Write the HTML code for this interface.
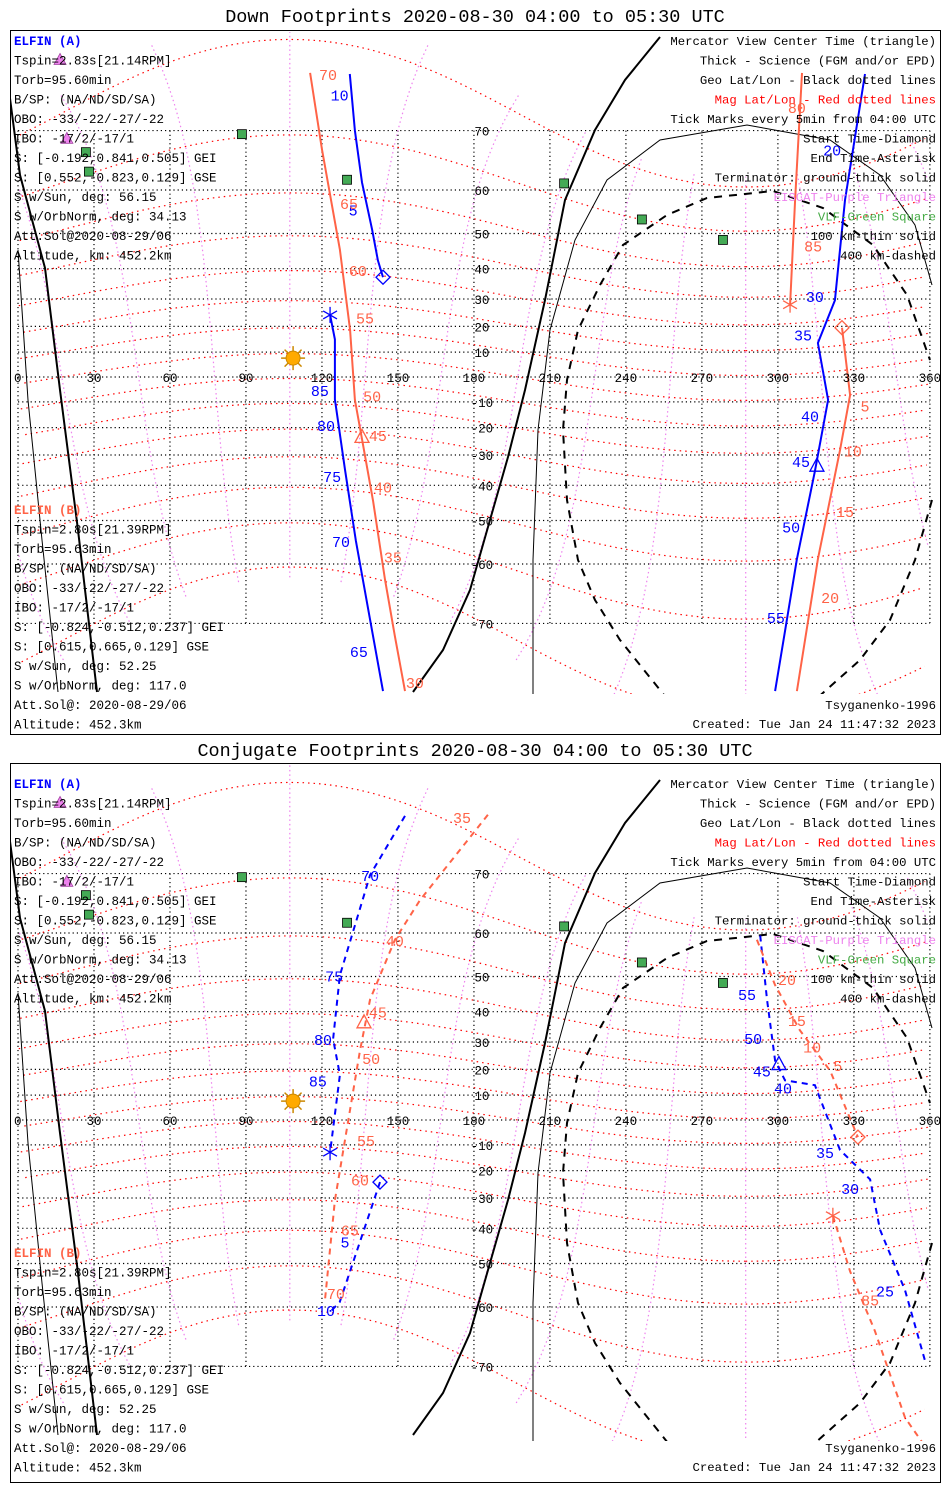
<!DOCTYPE html>
<html><head><meta charset="utf-8"><style>
html,body{margin:0;padding:0;background:#fff}
svg{display:block}
text{font-family:"Liberation Mono","DejaVu Sans Mono",monospace}
</style></head>
<body>
<svg id="chart" width="950" height="1500" viewBox="0 0 950 1500" xmlns="http://www.w3.org/2000/svg">
<defs>
<clipPath id="mapclip"><rect x="10" y="32" width="931" height="662"/></clipPath>
<clipPath id="mapclip2"><rect x="10" y="22" width="931" height="676"/></clipPath>
</defs>
<rect x="0" y="0" width="950" height="1500" fill="#fff"/>
<text x="475" y="22" font-size="18.5" text-anchor="middle">Down Footprints 2020-08-30 04:00 to 05:30 UTC</text>
<text x="475" y="756" font-size="18.5" text-anchor="middle">Conjugate Footprints 2020-08-30 04:00 to 05:30 UTC</text>
<rect x="10.5" y="30.5" width="930" height="704" fill="none" stroke="#000"/>
<rect x="10.5" y="763.5" width="930" height="719" fill="none" stroke="#000"/>
<g id="p1"></g>
<g id="p2" transform="translate(0,743)"></g>
</svg>
<script>
// ---- data ----
const lonTicks=[0,30,60,90,120,150,180,210,240,270,300,330,360];
const latTicks=[70,60,50,40,30,20,10,-10,-20,-30,-40,-50,-60,-70];
const magLats=[-70,-60,-50,-40,-30,-20,-10,0,10,20,30,40,50,60,70];
const magLons=[0,30,60,90,120,150,180,210,240,270,300,330];
const vlfSites=[[88.4,69.5],[26.8,66.8],[28,63.5],[129.9,62],[215.6,61.3],[246.3,53.5],[278.3,48.3]];
const eiscatSites=[[16.6,77.8],[19.3,68.9]];
const sunPos=[108.6,7.6];
// down footprints (top)
const downBlue1=[[144.1,37.3],[142.1,42.5],[139.8,51],[135.8,61.5],[133,70],[131,76.5]];
const downBlue2=[[123.2,24.3],[125.1,15],[125.1,-9],[129.1,-35],[133.4,-55],[139,-69.5],[144.1,-77.5]];
const downBlue3=[[334.4,76.5],[326.5,57.9],[322.5,29.5],[315.8,13.6],[319.8,-9.2],[314.6,-35.5],[307.5,-59],[298.9,-77.5]];
const downOrange1=[[115.3,76.6],[120,67.2],[127.1,45.6],[131.1,18.6],[133,-9.2],[135.8,-24.3],[140.2,-44.7],[144.9,-63],[148.8,-71.7],[152.8,-77.5]];
const downOrange2=[[309.5,76.6],[306.8,57.9],[304.8,28]];
const downOrange3=[[325.3,19.5],[328.5,-7.3],[324.5,-28.3],[315.8,-59],[307.5,-77.5]];
const downBlueLabels=[["10",127,74.4],["5",132.3,55.8],["85",119.2,-5.2],["80",121.6,-19],["75",124,-37],["70",127.5,-55],["65",134.6,-73.5],["20",321.4,67.2],["30",314.6,31],["35",309.9,16.9],["40",312.7,-15.3],["45",309.1,-32],["50",305.2,-51.5],["55",299.2,-69.1]];
const downOrangeLabels=[["70",122.4,76.5],["65",130.7,57.3],["60",134.2,39.6],["55",137,23.3],["50",139.8,-7.4],["45",142.1,-22.7],["40",144.1,-40.4],["35",148,-58.5],["30",156.7,-76.7],["80",307.5,73],["85",313.9,46.8],["5",334.4,-11.4],["10",329.6,-28.5],["15",326.5,-47.5],["20",320.6,-66]];
const downMarks={blueDiamond:[144.1,37.3],blueStar:[123.2,24.3],blueTri:[315.4,-33.5],orangeTri:[135.8,-23.3],orangeStar:[304.8,28],orangeDiamond:[325.3,19.5]};
// conjugate footprints (bottom)
const conjBlue1=[[152.8,76.6],[139,69.8],[127.1,50.3],[124.4,31],[127.1,17.9],[123.2,-12.9]];
const conjBlue2=[[142.9,-24.3],[135,-44],[127,-59],[123.2,-61]];
const conjBlue3=[[293,59.5],[295.7,43.7],[298.9,23.3],[302.8,15.8],[314.6,13.9],[324.5,-12],[336.4,-23.3],[340.3,-40.4],[350.2,-56.5],[358,-69.1]];
const conjOrange1=[[185.5,76.7],[158.7,66],[148.8,58.6],[139,43.7],[135,27],[129.1,-8],[125.1,-30.8],[121.2,-58.5]];
const conjOrange2=[[291.7,58.6],[298.9,47.7],[308.7,34],[320.6,19.5],[331.6,-6.9]];
const conjOrange3=[[321.7,-36],[328.5,-52],[338.3,-64.5],[350.2,-76],[358,-78.5]];
const conjBlueLabels=[["70",139,69.8],["75",124.8,50.3],["80",120.4,31],["85",118.4,15.8],["5",129.1,-43.9],["10",121.6,-60.6],["55",287.8,45.2],["50",290.2,31.4],["45",293.7,19.5],["40",302,13],["35",318.6,-12.9],["30",328.5,-26.5],["25",342.3,-56.5]];
const conjOrangeLabels=[["35",175.3,76.5],["40",148.8,58.6],["45",142.1,40],["50",139.4,24.3],["55",137.4,-8],["60",135,-23.3],["65",131,-40.4],["70",125.5,-57],["20",303.6,49.3],["15",307.5,37.3],["10",313.5,28.5],["5",323.7,21.7],["85",336.4,-58.5]];
const conjMarks={blueDiamond:[142.9,-24.3],blueStar:[123.2,-12.9],blueTri:[300.4,22.2],orangeTri:[136.6,36.8],orangeStar:[321.7,-36],orangeDiamond:[331.6,-6.9]};
const infoA=["Tspin=2.83s[21.14RPM]","Torb=95.60min","B/SP: (NA/ND/SD/SA)","OBO: -33/-22/-27/-22","IBO: -17/2/-17/1","S: [-0.192,0.841,0.505] GEI","S: [0.552,-0.823,0.129] GSE","S w/Sun, deg: 56.15","S w/OrbNorm, deg: 34.13","Att.Sol@2020-08-29/06","Altitude, km: 452.2km"];
const infoB=["Tspin=2.80s[21.39RPM]","Torb=95.63min","B/SP: (NA/ND/SD/SA)","OBO: -33/-22/-27/-22","IBO: -17/2/-17/1","S: [-0.824,-0.512,0.237] GEI","S: [0.615,0.665,0.129] GSE","S w/Sun, deg: 52.25","S w/OrbNorm, deg: 117.0","Att.Sol@: 2020-08-29/06","Altitude: 452.3km"];
const legendLines=[["Mercator View Center Time (triangle)","#000"],["Thick - Science (FGM and/or EPD)","#000"],["Geo Lat/Lon - Black dotted lines","#000"],["Mag Lat/Lon - Red dotted lines","#ff0000"],["Tick Marks every 5min from 04:00 UTC","#000"],["Start Time-Diamond","#000"],["End Time-Asterisk","#000"],["Terminator: ground-thick solid","#000"],["EISCAT-Purple Triangle","#ee82ee"],["VLF-Green Square","#44aa44"],["100 km-thin solid","#000"],["400 km-dashed","#000"]];

// ---- helpers ----
const NS="http://www.w3.org/2000/svg";
const BLUE="#0000ff", ORANGE="#ff6347";
function X(lon){return 18+lon*2.533;}
function Y(lat){const r=Math.max(-85,Math.min(85,lat))*Math.PI/180;return 377-142*Math.log(Math.tan(Math.PI/4+r/2));}
function mk(tag,attrs,parent){const e=document.createElementNS(NS,tag);for(const k in attrs)e.setAttribute(k,attrs[k]);parent.appendChild(e);return e;}
function ptsStr(arr){return arr.map(p=>X(p[0]).toFixed(1)+","+Y(p[1]).toFixed(1)).join(" ");}
function mag2geo(m,phi){
  const a=9.4*Math.PI/180, lp=287.3*Math.PI/180;
  const mr=m*Math.PI/180, pr=phi*Math.PI/180;
  const x=Math.cos(mr)*Math.cos(pr), y=Math.cos(mr)*Math.sin(pr), z=Math.sin(mr);
  const x1=Math.cos(a)*x+Math.sin(a)*z, z1=-Math.sin(a)*x+Math.cos(a)*z;
  const X2=Math.cos(lp)*x1-Math.sin(lp)*y, Y2=Math.sin(lp)*x1+Math.cos(lp)*y;
  let lon=Math.atan2(Y2,X2)*180/Math.PI; if(lon<0)lon+=360;
  return [lon,Math.asin(z1)*180/Math.PI];
}
function segs(list){
  const out=[];let cur=[];
  for(let i=0;i<list.length;i++){
    if(cur.length&&Math.abs(list[i][0]-cur[cur.length-1][0])>180){out.push(cur);cur=[];}
    cur.push(list[i]);
  }
  if(cur.length)out.push(cur);return out;
}
const termThickL=[[5,60],[20,175],[45,268],[60,390],[78,530],[97,692]];
const termThinL=[[18,250],[28,400],[42,540],[58,692]];
const termThickC=[[413,692],[443,650],[470,590],[490,520],[508,457],[525,390],[545,300],[565,200],[595,130],[625,80],[660,37]];
const termThin=[[533,700],[533,560],[538,430],[550,330],[575,240],[607,180],[660,140],[747,125],[830,140],[880,175],[915,225],[932,285]];
const termDash=[[668,700],[620,640],[595,600],[578,560],[567,500],[563,430],[567,380],[578,330],[600,285],[623,245],[667,215],[707,198],[773,191],[823,208],[873,245],[907,295],[930,360]];
const termDash2=[[932,500],[915,560],[890,620],[860,660],[815,700]];
function pp(a){return a.map(p=>p.join(",")).join(" ");}

function drawPanel(g,clipId,tracks,blueLabels,orangeLabels,marks,dashed){
  const map=mk("g",{"clip-path":"url(#"+clipId+")"},g);
  
  
  for(const lon of lonTicks){
    const l=mk("line",{x1:X(lon),x2:X(lon),y1:Y(70),y2:Y(-70),stroke:"#000","stroke-width":1.2,"stroke-dasharray":"1.2,3"},map);
    
    
  }
  for(const lat of latTicks.concat([0])){
    const l=mk("line",{x1:X(0),x2:X(360),y1:Y(lat),y2:Y(lat),stroke:"#000","stroke-width":1.2,"stroke-dasharray":"1.2,3"},map);
    
    
  }
  for(const ml of magLons){
    const list=[];for(let m=-72;m<=72;m+=2)list.push(mag2geo(m,ml));
    for(const s of segs(list)){const e=mk("polyline",{points:ptsStr(s),fill:"none",stroke:"#ee82ee","stroke-width":1.2,"stroke-dasharray":"1.5,3"},map);
      
      }
  }
  for(const m of magLats){
    const list=[];for(let p=0;p<=360;p+=3)list.push(mag2geo(m,p));
    for(const s of segs(list)){const e=mk("polyline",{points:ptsStr(s),fill:"none",stroke:"#ff0000","stroke-width":1.2,"stroke-dasharray":"1.5,4"},map);
      
      }
  }
  let t;
  t=mk("polyline",{points:pp(termThickL),fill:"none",stroke:"#000","stroke-width":2},map);
  
  
  t=mk("polyline",{points:pp(termThinL),fill:"none",stroke:"#000","stroke-width":1},map);
  
  
  t=mk("polyline",{points:pp(termThickC),fill:"none",stroke:"#000","stroke-width":2},map);
  
  
  t=mk("polyline",{points:pp(termThin),fill:"none",stroke:"#000","stroke-width":1},map);
  
  
  t=mk("polyline",{points:pp(termDash),fill:"none",stroke:"#000","stroke-width":2,"stroke-dasharray":"8,7"},map);
  
  
  t=mk("polyline",{points:pp(termDash2),fill:"none",stroke:"#000","stroke-width":2,"stroke-dasharray":"8,7"},map);
  
  
  for(const lon of lonTicks){
    const tx=mk("text",{x:lon===0?14:X(lon),y:Y(0)+5,"font-size":12.5,"text-anchor":lon===0?"start":"middle"},g);
    tx.textContent=lon;
    
    
  }
  for(const lat of latTicks){
    const tx=mk("text",{x:X(180)+8,y:Y(lat)+5,"font-size":12.5,"text-anchor":"middle"},g);
    tx.textContent=lat;
    
    
  }
  for(const s of vlfSites){
    const r=mk("rect",{x:X(s[0])-4.5,y:Y(s[1])-4.5,width:9,height:9,fill:"#44aa55",stroke:"#000","stroke-width":0.8},g);
    
    
  }
  for(const s of eiscatSites){
    const x=X(s[0]),y=Y(s[1]);
    const r=mk("polygon",{points:`${x-6},${y+5} ${x+6},${y+5} ${x},${y-6}`,fill:"#ee82ee",stroke:"#a040a0","stroke-width":0.8},g);
    
    
  }
  const sx=X(sunPos[0]),sy=Y(sunPos[1]);
  const sun=mk("g",{},g);
  
  
  for(let i=0;i<8;i++){const a=i*Math.PI/4;mk("line",{x1:sx+6*Math.cos(a),y1:sy+6*Math.sin(a),x2:sx+12*Math.cos(a),y2:sy+12*Math.sin(a),stroke:"#cc8800","stroke-width":1.5},sun);}
  mk("circle",{cx:sx,cy:sy,r:7,fill:"#ffaa00",stroke:"#cc8800"},sun);
  for(const tr of tracks){
    const e=mk("polyline",{points:ptsStr(tr.d),fill:"none",stroke:tr.c,"stroke-width":2,"stroke-dasharray":dashed?"6,5":"none"},map);
    
    
  }
  for(const L of blueLabels){
    const tx=mk("text",{x:X(L[1]),y:Y(L[2])+6,"font-size":15,fill:BLUE,"text-anchor":"middle"},g);
    tx.textContent=L[0];
    
    
  }
  for(const L of orangeLabels){
    const tx=mk("text",{x:X(L[1]),y:Y(L[2])+6,"font-size":15,fill:ORANGE,"text-anchor":"middle"},g);
    tx.textContent=L[0];
    
    
  }
  function diamond(p,c,name){const x=X(p[0]),y=Y(p[1]);const e=mk("polygon",{points:`${x},${y-7} ${x+7},${y} ${x},${y+7} ${x-7},${y}`,fill:"none",stroke:c,"stroke-width":1.3},g);
    
    }
  function star(p,c,name){const x=X(p[0]),y=Y(p[1]);const s=mk("g",{stroke:c,"stroke-width":1.3},g);
    
    
    for(let i=0;i<3;i++){const a=i*Math.PI/3+Math.PI/2;mk("line",{x1:x-8*Math.cos(a),y1:y-8*Math.sin(a),x2:x+8*Math.cos(a),y2:y+8*Math.sin(a)},s);}}
  function tri(p,c,name){const x=X(p[0]),y=Y(p[1]);const e=mk("polygon",{points:`${x-7},${y+6} ${x+7},${y+6} ${x},${y-7}`,fill:"none",stroke:c,"stroke-width":1.3},g);
    
    }
  diamond(marks.blueDiamond,BLUE,'elfin-a-start-diamond');
  star(marks.blueStar,BLUE,'elfin-a-end-asterisk');
  tri(marks.blueTri,BLUE,'elfin-a-center-triangle');
  diamond(marks.orangeDiamond,ORANGE,'elfin-b-start-diamond');
  star(marks.orangeStar,ORANGE,'elfin-b-end-asterisk');
  tri(marks.orangeTri,ORANGE,'elfin-b-center-triangle');
  let tx=mk("text",{x:14,y:45,"font-size":12.5,fill:BLUE,"font-weight":"bold"},g);
  tx.textContent="ELFIN (A)";
  
  
  infoA.forEach((s,i)=>{const t=mk("text",{x:14,y:64.5+i*19.5,"font-size":12.5},g);t.textContent=s;
    
    });
  tx=mk("text",{x:14,y:514,"font-size":12.5,fill:ORANGE,"font-weight":"bold"},g);
  tx.textContent="ELFIN (B)";
  
  
  infoB.forEach((s,i)=>{const t=mk("text",{x:14,y:533.5+i*19.5,"font-size":12.5},g);t.textContent=s;
    
    });
  legendLines.forEach((s,i)=>{const t=mk("text",{x:936,y:45+i*19.5,"font-size":12.3,fill:s[1],"text-anchor":"end"},g);t.textContent=s[0];
    
    });
  tx=mk("text",{x:936,y:709,"font-size":12.3,"text-anchor":"end"},g);tx.textContent="Tsyganenko-1996";
  
  
  tx=mk("text",{x:936,y:728,"font-size":12.3,"text-anchor":"end"},g);tx.textContent="Created: Tue Jan 24 11:47:32 2023";
  
  
}
drawPanel(document.getElementById("p1"),"mapclip",
  [{d:downBlue1,c:BLUE,n:'elfin-a-track'},{d:downBlue2,c:BLUE,n:'elfin-a-track'},{d:downBlue3,c:BLUE,n:'elfin-a-track'},
   {d:downOrange1,c:ORANGE,n:'elfin-b-track'},{d:downOrange2,c:ORANGE,n:'elfin-b-track'},{d:downOrange3,c:ORANGE,n:'elfin-b-track'}],
  downBlueLabels,downOrangeLabels,downMarks,false);
drawPanel(document.getElementById("p2"),"mapclip2",
  [{d:conjBlue1,c:BLUE,n:'elfin-a-track'},{d:conjBlue2,c:BLUE,n:'elfin-a-track'},{d:conjBlue3,c:BLUE,n:'elfin-a-track'},
   {d:conjOrange1,c:ORANGE,n:'elfin-b-track'},{d:conjOrange2,c:ORANGE,n:'elfin-b-track'},{d:conjOrange3,c:ORANGE,n:'elfin-b-track'}],
  conjBlueLabels,conjOrangeLabels,conjMarks,true);
</script>
</body></html>
